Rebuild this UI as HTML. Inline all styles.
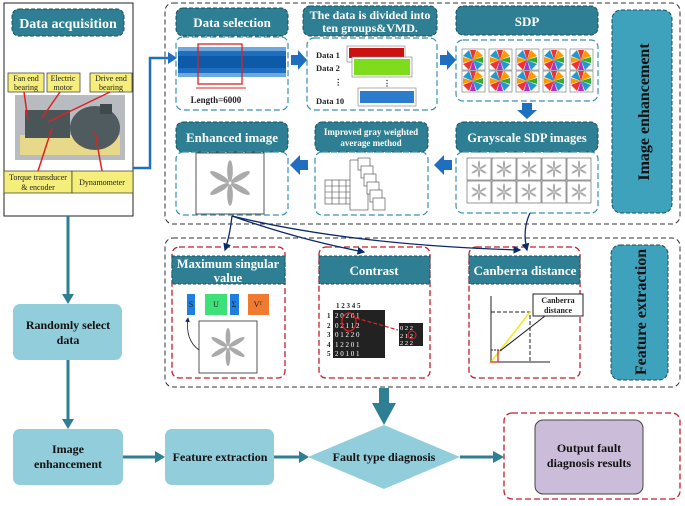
<!DOCTYPE html>
<html><head><meta charset="utf-8"><style>
body{margin:0;background:#fff}
svg{display:block;font-family:"Liberation Serif",serif;font-weight:bold}
</style></head><body>
<svg width="685" height="506" viewBox="0 0 685 506" xmlns="http://www.w3.org/2000/svg">
<defs>
<g id="star"><g fill="#666" opacity="0.55">
<ellipse cx="0" cy="-10" rx="2.4" ry="9"/><ellipse cx="0" cy="-10" rx="2.4" ry="9" transform="rotate(60)"/><ellipse cx="0" cy="-10" rx="2.4" ry="9" transform="rotate(120)"/><ellipse cx="0" cy="-10" rx="2.4" ry="9" transform="rotate(180)"/><ellipse cx="0" cy="-10" rx="2.4" ry="9" transform="rotate(240)"/><ellipse cx="0" cy="-10" rx="2.4" ry="9" transform="rotate(300)"/></g></g>
<g id="cstar">
<circle r="10" fill="#fff"/>
<path d="M0 0L-3 -10L3 -10Z" fill="#e33"/><path d="M0 0L4 -10L10 -4Z" fill="#f90"/><path d="M0 0L10 -3L10 3Z" fill="#3a3"/><path d="M0 0L10 4L4 10Z" fill="#29c"/><path d="M0 0L3 10L-3 10Z" fill="#a3c"/><path d="M0 0L-4 10L-10 4Z" fill="#e33"/><path d="M0 0L-10 3L-10 -3Z" fill="#f90"/><path d="M0 0L-10 -4L-4 -10Z" fill="#29c"/>
</g>
<marker id="ah" markerWidth="6" markerHeight="6" refX="5" refY="3" orient="auto"><path d="M0 0L6 3L0 6Z" fill="#0b2a6b"/></marker>
</defs>

<rect x="4" y="3" width="129" height="213" fill="#fff" stroke="#222" stroke-width="1"/>
<rect x="12" y="9" width="112" height="27" rx="7" fill="#2e7f93" stroke="#1a4f5e" stroke-dasharray="4 2"/>
<text x="68" y="28" fill="#fff" font-size="14" text-anchor="middle">Data acquisition</text>
<rect x="15" y="95" width="110" height="65" fill="#b8bcc0"/>
<rect x="20" y="135" width="100" height="20" fill="#e8d88a"/>
<rect x="25" y="110" width="45" height="28" fill="#4a5558"/>
<ellipse cx="95" cy="128" rx="25" ry="22" fill="#4f5b5e"/>
<rect x="100" y="104" width="12" height="10" fill="#3f4a4d"/>
<g font-family="Liberation Serif,serif" font-weight="normal" font-size="8" fill="#222">
<rect x="8" y="73" width="36" height="19" fill="#f5ee7a" stroke="#333" stroke-width=".7"/>
<text x="26" y="81" text-anchor="middle">Fan end</text><text x="26" y="90" text-anchor="middle">bearing</text>
<rect x="47" y="73" width="33" height="19" fill="#f5ee7a" stroke="#333" stroke-width=".7"/>
<text x="63" y="81" text-anchor="middle">Electric</text><text x="63" y="90" text-anchor="middle">motor</text>
<rect x="90" y="73" width="42" height="19" fill="#f5ee7a" stroke="#333" stroke-width=".7"/>
<text x="111" y="81" text-anchor="middle">Drive end</text><text x="111" y="90" text-anchor="middle">bearing</text>
<rect x="4" y="171" width="68" height="22" fill="#f5ee7a" stroke="#333" stroke-width=".7"/>
<text x="38" y="180" text-anchor="middle">Torque transducer</text><text x="38" y="190" text-anchor="middle">&amp; encoder</text>
<rect x="72" y="171" width="61" height="22" fill="#f5ee7a" stroke="#333" stroke-width=".7"/>
<text x="102" y="185" text-anchor="middle">Dynamometer</text>
</g>
<g stroke="#d22" stroke-width="1.5"><line x1="24" y1="92" x2="28" y2="120"/><line x1="60" y1="92" x2="42" y2="118"/><line x1="110" y1="92" x2="48" y2="122"/><line x1="38" y1="171" x2="52" y2="128"/><line x1="102" y1="171" x2="95" y2="132"/></g>

<path d="M133 168 H150 V58 H170" fill="none" stroke="#1f6fc0" stroke-width="2.5"/>
<path d="M168 52 L177 58 L168 64Z" fill="#1f6fc0"/>

<rect x="165" y="3" width="515" height="221" rx="8" fill="none" stroke="#333" stroke-dasharray="5 3"/>
<g fill="#2e7f93" stroke="#1a4f5e" stroke-dasharray="4 2">
<rect x="176" y="8" width="112" height="28" rx="7"/>
<rect x="303" y="6" width="134" height="30" rx="7"/>
<rect x="456" y="6" width="142" height="29" rx="7"/>
<rect x="176" y="122" width="112" height="30" rx="7"/>
<rect x="315" y="122" width="113" height="30" rx="7"/>
<rect x="456" y="122" width="142" height="30" rx="7"/>
</g>
<g fill="none" stroke="#3a8fb0" stroke-width="1.2" stroke-dasharray="6 3">
<rect x="176" y="37" width="112" height="73" rx="7"/>
<rect x="307" y="38" width="130" height="72" rx="7"/>
<rect x="456" y="40" width="142" height="61" rx="7"/>
<rect x="176" y="152" width="112" height="63" rx="7"/>
<rect x="315" y="152" width="113" height="63" rx="7"/>
<rect x="456" y="152" width="142" height="61" rx="7"/>
</g>
<g fill="#fff" font-size="13" text-anchor="middle">
<text x="232" y="27">Data selection</text>
<text x="370" y="19" font-size="12">The data is divided into</text>
<text x="370" y="32" font-size="12">ten groups&amp;VMD.</text>
<text x="527" y="26">SDP</text>
<text x="232" y="142">Enhanced image</text>
<text x="371" y="135" font-size="9">Improved gray weighted</text>
<text x="371" y="146" font-size="9">average method</text>
<text x="527" y="142" font-size="12.5">Grayscale SDP images</text>
</g>
<rect x="178" y="47" width="108" height="30" fill="#6fa8dc"/>
<rect x="178" y="51" width="108" height="22" fill="#1f6fc0"/>
<rect x="178" y="56" width="108" height="12" fill="#0d5aa8"/>
<rect x="198" y="44" width="44" height="40" fill="none" stroke="#d22" stroke-width="1.3"/>
<line x1="196" y1="88" x2="246" y2="88" stroke="#d22"/>
<text x="216" y="103" font-size="9" text-anchor="middle" fill="#222">Length=6000</text>
<g font-size="8.5" fill="#222"><text x="316" y="58">Data 1</text><text x="316" y="71">Data 2</text><text x="334" y="85">⋮</text><text x="316" y="104">Data 10</text></g>
<rect x="347" y="46" width="58" height="16" fill="#fff" stroke="#777" stroke-width=".6"/><rect x="349" y="48" width="55" height="10" fill="#c11"/>
<rect x="352" y="57" width="60" height="20" fill="#fff" stroke="#777" stroke-width=".6"/><rect x="354" y="59" width="56" height="16" fill="#7ddc1c"/>
<text x="383" y="86" font-size="8" fill="#222">⋮</text>
<rect x="358" y="88" width="58" height="18" fill="#fff" stroke="#777" stroke-width=".6"/><rect x="360" y="91" width="54" height="12" fill="#2b7ccc"/>
<g stroke="#555" stroke-width=".5">
<g fill="#fff"><rect x="462" y="49" width="23" height="21"/><rect x="489" y="49" width="23" height="21"/><rect x="516" y="49" width="23" height="21"/><rect x="543" y="49" width="23" height="21"/><rect x="570" y="49" width="23" height="21"/>
<rect x="462" y="71" width="23" height="21"/><rect x="489" y="71" width="23" height="21"/><rect x="516" y="71" width="23" height="21"/><rect x="543" y="71" width="23" height="21"/><rect x="570" y="71" width="23" height="21"/></g></g>
<g><use href="#cstar" x="473" y="60"/><use href="#cstar" x="500" y="60"/><use href="#cstar" x="527" y="60"/><use href="#cstar" x="554" y="60"/><use href="#cstar" x="581" y="60"/>
<use href="#cstar" x="473" y="81"/><use href="#cstar" x="500" y="81"/><use href="#cstar" x="527" y="81"/><use href="#cstar" x="554" y="81"/><use href="#cstar" x="581" y="81"/></g>
<g fill="#fff" stroke="#555" stroke-width=".6">
<rect x="467" y="158" width="24" height="22"/><rect x="492" y="158" width="24" height="22"/><rect x="517" y="158" width="24" height="22"/><rect x="542" y="158" width="24" height="22"/><rect x="567" y="158" width="24" height="22"/>
<rect x="467" y="181" width="24" height="22"/><rect x="492" y="181" width="24" height="22"/><rect x="517" y="181" width="24" height="22"/><rect x="542" y="181" width="24" height="22"/><rect x="567" y="181" width="24" height="22"/></g>
<g><g transform="translate(479 169) scale(.45)"><use href="#star"/></g><g transform="translate(504 169) scale(.45)"><use href="#star"/></g><g transform="translate(529 169) scale(.45)"><use href="#star"/></g><g transform="translate(554 169) scale(.45)"><use href="#star"/></g><g transform="translate(579 169) scale(.45)"><use href="#star"/></g>
<g transform="translate(479 192) scale(.45)"><use href="#star"/></g><g transform="translate(504 192) scale(.45)"><use href="#star"/></g><g transform="translate(529 192) scale(.45)"><use href="#star"/></g><g transform="translate(554 192) scale(.45)"><use href="#star"/></g><g transform="translate(579 192) scale(.45)"><use href="#star"/></g></g>
<g fill="#fff" stroke="#444" stroke-width=".6">
<rect x="325" y="180" width="28" height="24"/>
<path d="M325 186H353M325 192H353M325 198H353M332 180V204M339 180V204M346 180V204" />
<rect x="350" y="160" width="18" height="50"/>
<rect x="358" y="158" width="12" height="12"/><rect x="361" y="166" width="12" height="12"/><rect x="364" y="174" width="12" height="12"/><rect x="367" y="182" width="12" height="12"/><rect x="370" y="190" width="12" height="12"/><rect x="373" y="198" width="12" height="12"/>
</g>
<rect x="196" y="153" width="68" height="61" fill="#fff" stroke="#555"/>
<g transform="translate(230 183) scale(1.2)"><use href="#star"/></g>
<rect x="612" y="10" width="60" height="203" rx="9" fill="#3fa2bd" stroke="#1a4f5e" stroke-dasharray="4 2"/>
<text transform="translate(649 112) rotate(-90)" font-size="16" text-anchor="middle" fill="#111">Image enhancement</text>
<g fill="#1f6fc0">
<path d="M291 55H298V50L307 60L298 70V65H291Z"/>
<path d="M440 55H447V50L456 60L447 70V65H440Z"/>
<path d="M522 103V110H517L527 119L537 110H532V103Z"/>
<path d="M452 160H444V155L434 165L444 175V170H452Z"/>
<path d="M308 160H300V155L290 165L300 175V170H308Z"/>
</g>

<rect x="165" y="238" width="515" height="149" rx="8" fill="none" stroke="#333" stroke-dasharray="5 3"/>
<g fill="none" stroke="#c41e2a" stroke-width="1.3" stroke-dasharray="6 3">
<rect x="172" y="247" width="113" height="131" rx="7"/>
<rect x="319" y="247" width="111" height="131" rx="7"/>
<rect x="469" y="247" width="111" height="131" rx="7"/>
</g>
<g fill="#2e7f93" stroke="#1a4f5e" stroke-dasharray="3 2">
<rect x="172" y="256" width="113" height="28"/>
<rect x="319" y="256" width="111" height="28"/>
<rect x="469" y="256" width="111" height="28"/>
</g>
<g fill="#fff" font-size="13" text-anchor="middle">
<text x="228" y="268" font-size="12.5">Maximum singular</text><text x="228" y="282" font-size="12.5">value</text>
<text x="374" y="275">Contrast</text>
<text x="525" y="275">Canberra distance</text>
</g>
<rect x="611" y="245" width="57" height="135" rx="9" fill="#3fa2bd" stroke="#1a4f5e" stroke-dasharray="4 2"/>
<text transform="translate(646 312) rotate(-90)" font-size="16" text-anchor="middle" fill="#111">Feature extraction</text>
<g font-size="8" font-weight="normal" text-anchor="middle" fill="#222">
<rect x="187" y="294" width="8" height="21" fill="#1f7fe0"/><text x="191" y="307">S</text>
<rect x="205" y="294" width="22" height="21" fill="#3ee07a"/><text x="216" y="307">U</text>
<rect x="230" y="294" width="9" height="21" fill="#1f7fe0"/><text x="234" y="307">Σ</text>
<rect x="248" y="294" width="21" height="21" fill="#f07a30"/><text x="258" y="307">Vᵀ</text>
</g>
<rect x="199" y="321" width="58" height="52" fill="#fff" stroke="#555"/>
<g transform="translate(228 347) scale(1)"><use href="#star"/></g>
<path d="M199 350 Q185 340 188 318" fill="none" stroke="#222" stroke-width=".8" marker-end="url(#ah)"/>
<rect x="333" y="310" width="52" height="48" fill="#222"/>
<g fill="#fff" font-size="7" font-weight="normal"><text x="335" y="318">2 0 2 0 1</text><text x="335" y="328">0 2 1 1 2</text><text x="335" y="337">0 1 2 2 0</text><text x="335" y="347">1 2 2 0 1</text><text x="335" y="356">2 0 1 0 1</text></g>
<g font-size="7" fill="#222"><text x="336" y="308">1 2 3 4 5</text><text x="327" y="318">1</text><text x="327" y="328">2</text><text x="327" y="337">3</text><text x="327" y="347">4</text><text x="327" y="356">5</text></g>
<rect x="399" y="323" width="24" height="23" fill="#222"/>
<g fill="#fff" font-size="6.5" font-weight="normal"><text x="400" y="330">0 2 2</text><text x="400" y="338">2 1 2</text><text x="400" y="345">2 2 2</text></g>
<ellipse cx="349" cy="322" rx="7" ry="9" fill="none" stroke="#d22" stroke-width="1.2"/>
<path d="M356 318 L398 330" stroke="#d22" stroke-dasharray="4 2" stroke-width="1.2"/>
<circle cx="412" cy="335" r="4" fill="none" stroke="#d22"/>
<path d="M491 362H550M491 362V296" stroke="#222" fill="none"/>
<path d="M491 312H530V362" stroke="#222" stroke-dasharray="4 2" fill="none"/>
<line x1="491" y1="362" x2="530" y2="312" stroke="#ee2" stroke-width="1.6"/>
<line x1="491" y1="350" x2="502" y2="350" stroke="#222" stroke-dasharray="2 1"/>
<path d="M498 350V362H490" stroke="#d22" fill="none" stroke-width="1.2"/>
<line x1="500" y1="351" x2="545" y2="316" stroke="#222" stroke-width="1.1"/>
<rect x="533" y="294" width="50" height="22" fill="#fff" stroke="#222"/>
<g font-size="8" text-anchor="middle" fill="#222"><text x="558" y="303">Canberra</text><text x="558" y="313">distance</text></g>
<g fill="none" stroke="#0b2a6b" stroke-width="1.3" marker-end="url(#ah)">
<path d="M232 216 Q230 235 225 250"/>
<path d="M232 216 Q300 240 364 252"/>
<path d="M232 216 Q350 245 520 250"/>
<path d="M530 213 Q522 230 527 250"/>
</g>

<g stroke="#2e7f93" stroke-width="3" fill="#2e7f93">
<line x1="68" y1="216" x2="68" y2="296"/><path d="M62 294L68 304L74 294Z" stroke="none"/>
<line x1="68" y1="360" x2="68" y2="421"/><path d="M62 419L68 429L74 419Z" stroke="none"/>
<line x1="123" y1="457" x2="156" y2="457"/><path d="M155 451L165 457L155 463Z" stroke="none"/>
<line x1="274" y1="457" x2="300" y2="457"/><path d="M299 451L309 457L299 463Z" stroke="none"/>
<line x1="460" y1="457" x2="494" y2="457"/><path d="M493 451L504 457L493 463Z" stroke="none"/>
<rect x="379" y="388" width="10" height="16" stroke="none"/><path d="M372 403L384 425L396 403Z" stroke="none"/>
</g>
<g fill="#92cddc">
<rect x="13" y="304" width="109" height="56" rx="7"/>
<rect x="13" y="429" width="110" height="56" rx="7"/>
<rect x="165" y="429" width="109" height="56" rx="7"/>
<path d="M384 425L460 457L384 489L308 457Z"/>
</g>
<g font-size="12" text-anchor="middle" fill="#111">
<text x="68" y="329">Randomly select</text><text x="68" y="344">data</text>
<text x="68" y="453">Image</text><text x="68" y="468">enhancement</text>
<text x="220" y="461">Feature extraction</text>
<text x="384" y="461">Fault type diagnosis</text>
</g>
<rect x="504" y="413" width="176" height="86" rx="8" fill="none" stroke="#c41e2a" stroke-width="1.3" stroke-dasharray="6 3"/>
<rect x="535" y="420" width="108" height="74" rx="8" fill="#cbbdd9" stroke="#444"/>
<g font-size="12" text-anchor="middle" fill="#111"><text x="589" y="452">Output fault</text><text x="589" y="467">diagnosis results</text></g>
</svg>
</body></html>
